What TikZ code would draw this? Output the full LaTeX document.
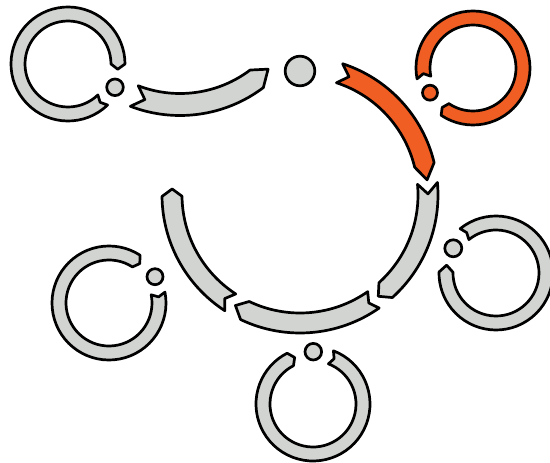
\documentclass[tikz,border=0pt]{standalone}
\definecolor{segGray}{RGB}{210,212,209}
\definecolor{segOrange}{RGB}{241,94,35}
\tikzset{
  grayseg/.style={fill=segGray,draw=black,line width=2.7pt,line join=round},
  orangeseg/.style={fill=segOrange,draw=black,line width=2.7pt,line join=round}
}
% #1,#2 centre; #3 inner r; #4 outer r; #5 tail angle; #6 head angle; #7 notch offset; #8 tip offset; #9 style
\newcommand{\arcseg}[9]{%
  \begin{scope}[shift={(#1,#2)}]
    \pgfmathsetmacro\rmid{(#3+#4)/2}
    \filldraw[#9] (#5:#4) arc[start angle=#5, end angle=#6, radius=#4]
      -- ({#6+#8}:\rmid) -- (#6:#3)
      arc[start angle=#6, end angle=#5, radius=#3]
      -- ({#5+#7}:\rmid) -- cycle;
  \end{scope}}
\begin{document}
\begin{tikzpicture}[x=1pt,y=-1pt]
\useasboundingbox (0,0) rectangle (550,463);
% main cycle
\arcseg{300}{195}{118}{138}{-72}{-13.6}{4.5}{6.8}{orangeseg}
\arcseg{300}{195}{118}{138}{-5.2}{48}{4.7}{4.3}{grayseg}
\arcseg{300}{195}{118}{138}{55}{115.5}{2.5}{4.8}{grayseg}
\arcseg{300}{195}{118}{138}{123}{179.4}{3}{3.3}{grayseg}
% top-left incoming arc
\arcseg{180}{-23}{116.5}{138.5}{111}{53}{-5}{-6.7}{grayseg}
% small rings
\arcseg{68}{64}{43}{57}{46}{360}{4}{6}{grayseg}
\arcseg{473}{68}{43}{57}{169}{484}{4.5}{4}{orangeseg}
\arcseg{496}{273}{43}{57}{231}{541}{3}{8}{grayseg}
\arcseg{313}{404}{43}{57}{291}{603}{4}{5.5}{grayseg}
\arcseg{109}{303}{43}{57}{349}{663}{4}{5}{grayseg}
% dots
\filldraw[grayseg] (300,71) circle[radius=14.8];
\filldraw[grayseg] (115,87.3) circle[radius=8.3];
\filldraw[orangeseg] (430,92.7) circle[radius=7.5];
\filldraw[grayseg] (453.3,248.3) circle[radius=8.5];
\filldraw[grayseg] (313.3,351.7) circle[radius=8.3];
\filldraw[grayseg] (155,276.7) circle[radius=8];
\end{tikzpicture}
\end{document}
